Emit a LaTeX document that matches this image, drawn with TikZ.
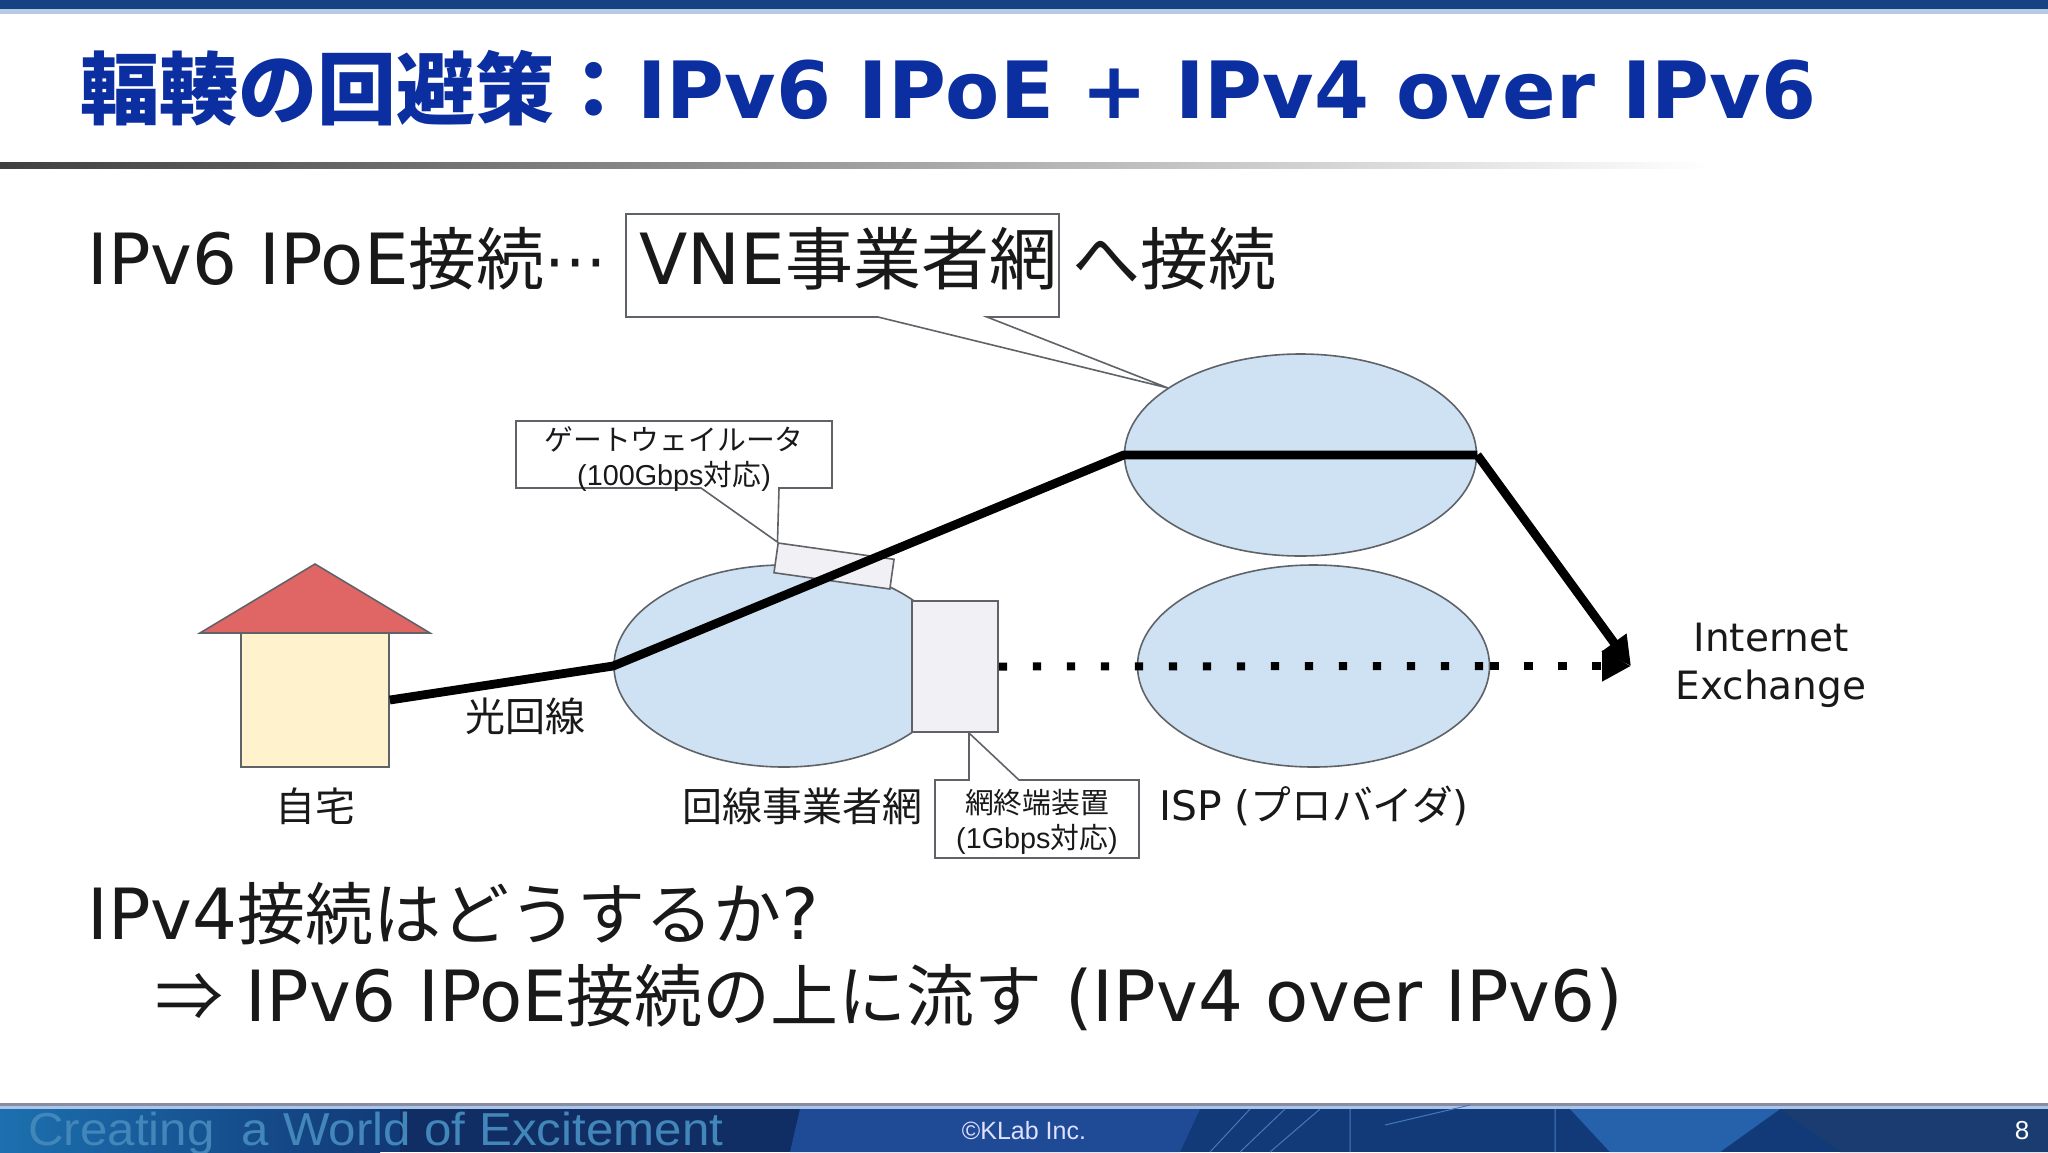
\documentclass[tikz,border=0pt]{standalone}
\usepackage{fontspec}
\setmainfont{DejaVu Sans}
\newfontfamily\jp{Noto Sans CJK JP}
\newfontfamily\arl{Liberation Sans}
\newfontfamily\ltn[Scale=1.038]{DejaVu Sans}
\usetikzlibrary{shapes.geometric,arrows.meta}
\definecolor{ttl}{HTML}{0B2EA0}
\definecolor{netb}{HTML}{CFE2F3}
\definecolor{edgeg}{HTML}{5F6368}
\definecolor{devf}{HTML}{F1F1F5}
\newcommand\fs[1]{\fontsize{#1}{#1}\selectfont}
\tikzset{
  x=0.5pt,y=-0.5pt,
  netw/.style={ellipse,draw=edgeg,fill=netb,line width=0.8pt,minimum width=176pt,minimum height=101pt,inner sep=0pt},
  devb/.style={rectangle,draw=edgeg,fill=devf,line width=0.8pt,inner sep=0pt},
  call/.style={draw=edgeg,fill=white,line width=0.8pt,line join=miter},
  body/.style={anchor=base west,inner sep=0pt,font=\fs{34}\ltn,text=black!90},
  lab/.style={inner sep=0pt,font=\fs{20},text=black!90},
  small/.style={inner sep=0pt,font=\fs{14.4},text=black!90},
  link/.style={line width=4.4pt,black},
  dots/.style={line width=4pt,black,dash pattern=on 4.2pt off 12.8pt},
  tip/.style={-{Triangle[length=14.5pt,width=14.5pt]}},
}
\begin{document}
\begin{tikzpicture}
\useasboundingbox (0,0) rectangle (2048,1152);
\fill[white] (0,0) rectangle (2048,1152);
% top band
\fill[color={rgb,255:red,22;green,66;blue,132}] (0,0) rectangle (2048,9);
\fill[color={rgb,255:red,184;green,201;blue,230}] (0,9) rectangle (2048,14);
% footer band
\fill[color={rgb,255:red,135;green,140;blue,160}] (0,1103) rectangle (2048,1106);
\fill[color={rgb,255:red,170;green,195;blue,235}] (0,1106) rectangle (2048,1109);
\fill[color={rgb,255:red,18;green,58;blue,120}] (0,1109) rectangle (2048,1152);
\fill[left color={rgb,255:red,28;green,112;blue,175},right color={rgb,255:red,18;green,58;blue,120}] (0,1109) rectangle (380,1152);
\fill[color={rgb,255:red,16;green,46;blue,100}] (400,1109) rectangle (800,1152);
\fill[color={rgb,255:red,30;green,74;blue,150}] (790,1152) -- (800,1109) -- (1200,1109) -- (1180,1152) -- cycle;
\fill[color={rgb,255:red,38;green,98;blue,172}] (1570,1109) -- (1780,1109) -- (1720,1152) -- (1610,1152) -- cycle;
\fill[color={rgb,255:red,26;green,60;blue,112}] (1780,1109) -- (2048,1109) -- (2048,1152) -- (1840,1152) -- cycle;
\draw[color={rgb,255:red,70;green,120;blue,190},line width=0.5pt] (1210,1152) -- (1250,1109) (1240,1152) -- (1285,1109) (1270,1152) -- (1320,1109) (1350,1109) -- (1350,1152) (1555,1109) -- (1555,1152) (1385,1125) -- (1470,1105);
\node[inner sep=0pt,anchor=base west,text={rgb,255:red,66;green,134;blue,186}] (slogan) at (28,1145) {\arl\fs{22}\scalebox{1.12}[1.05]{Creating\ \ a World of Excitement}};
\node[inner sep=0pt,text=white!88!blue] (copyr) at (1024,1131) {\arl\fs{12.5}©KLab Inc.};
\node[inner sep=0pt,text=white] (pageno) at (2022,1131) {\arl\fs{13}8};
% title
\node[anchor=base west,inner sep=0pt,text=ttl] (title) at (80,118) {\fs{39.5}{\jp\bfseries 輻輳の回避策：}\kern2pt\textbf{IPv6 IPoE + IPv4 over IPv6}};
\fill[left color=black!75,middle color=black!28,right color=white] (0,162) rectangle (1710,168);
% body text
\node[body] (l1) at (87,284) {IPv6 IPoE{\jp 接続}{\fs{30}\raisebox{1pt}{⋯}}};
\draw[call] (626,214) -- (1059,214) -- (1059,317) -- (987,317) -- (1168,388) -- (878,317) -- (626,317) -- cycle;
\node[body] (vnet) at (639,284) {VNE{\jp 事業者網}};
\node[body] (l1b) at (1072,284) {{\jp へ接続}};
\node[body] (l2) at (87,939) {IPv4{\jp 接続はどうするか}?};
\node[body] (l3) at (155,1021) {{\jp ⇒} IPv6 IPoE{\jp 接続の上に流す} (IPv4 over IPv6)};
% networks
\node[netw] (vne) at (1300.5,455) {};
\node[netw] (isp) at (1313.5,666) {};
\node[netw,minimum width=170pt] (line) at (784,666) {};
% house
\fill[draw=edgeg,fill={rgb,255:red,224;green,102;blue,102},line width=0.8pt] (315,564) -- (430,633) -- (200,633) -- cycle;
\node[rectangle,draw=edgeg,fill={rgb,255:red,255;green,242;blue,204},line width=0.8pt,inner sep=0pt,minimum width=74pt,minimum height=67pt] (home) at (315,700) {};
% devices
\node[devb,minimum width=43pt,minimum height=65.5pt] (ont) at (955,666.5) {};
\node[devb,minimum width=58.5pt,minimum height=15pt,rotate=-8] (gw) at (834,566) {};
% callouts
\draw[call] (516,421) -- (832,421) -- (832,488) -- (779,488) -- (gw.north west) -- (701,488) -- (516,488) -- cycle;
\node[small,align=center] (gwl) at (674,459) {{\jp ゲートウェイルータ}\\[3pt]{\arl (100Gbps{\jp 対応})}};
\draw[call] (935,780) -- (969,780) -- (969,733) -- (1019,780) -- (1139,780) -- (1139,858) -- (935,858) -- cycle;
\node[small,align=center] (ontl) at (1037,822) {{\jp 網終端装置}\\[3pt]{\arl (1Gbps{\jp 対応})}};
% connectors
\coordinate (ix) at (1631,666);
\draw[link,line join=round] (home.east) -- (line.west) -- (vne.west) -- (vne.east);
\draw[link,tip] (vne.east) -- (ix);
\draw[dots] (ont.east) -- (isp.east);
\draw[dots,tip] (isp.east) -- (ix);
% labels
\node[lab] (homel) at (315,806) {{\jp 自宅}};
\node[lab] (fiber) at (525,716) {{\jp 光回線}};
\node[lab] (linel) at (802,806) {{\jp 回線事業者網}};
\node[lab,font=\fs{20.4}] (ispl) at (1314,806) {ISP ({\jp プロバイダ})};
\node[lab,align=center,font=\fs{19.5}] (ixl) at (1771,665) {Internet\\[4.5pt]Exchange};
\end{tikzpicture}
\end{document}
